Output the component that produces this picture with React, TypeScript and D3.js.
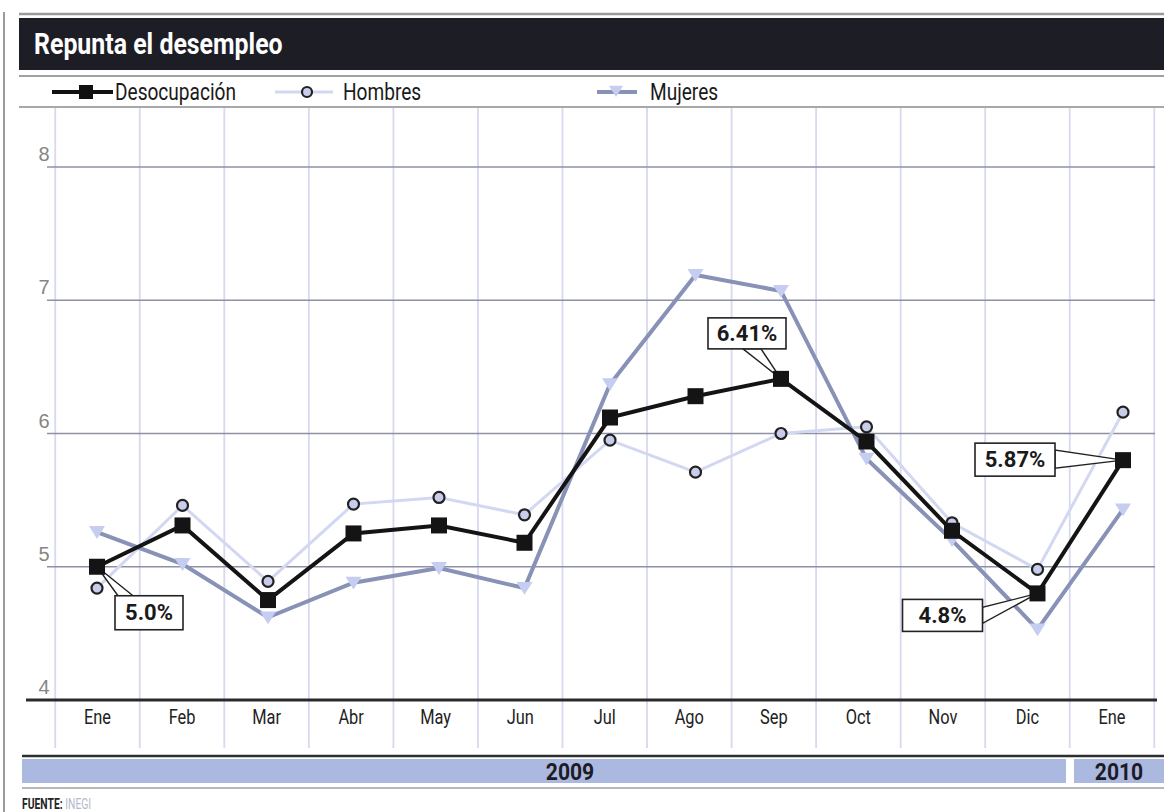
import React from "react";
import * as d3 from "d3";

const months = ["Ene", "Feb", "Mar", "Abr", "May", "Jun", "Jul", "Ago", "Sep", "Oct", "Nov", "Dic", "Ene"];
const desocupacion = [5.0, 5.31, 4.75, 5.25, 5.31, 5.18, 6.12, 6.28, 6.41, 5.94, 5.27, 4.8, 5.8];
const hombres = [4.84, 5.46, 4.89, 5.47, 5.52, 5.39, 5.95, 5.71, 6.0, 6.05, 5.33, 4.98, 6.16];
const mujeres = [5.26, 5.02, 4.62, 4.88, 4.99, 4.84, 6.37, 7.19, 7.07, 5.81, 5.2, 4.53, 5.43];
const yTicks = [4, 5, 6, 7, 8];
const years = ["2009", "2010"];
const callouts = [
  { i: 0, label: "5.0%" },
  { i: 8, label: "6.41%" },
  { i: 11, label: "4.8%" },
  { i: 12, label: "5.87%" },
];

const FONT = "Roboto, 'Liberation Sans', sans-serif";

type TProps = {
  x: number; y: number; sx?: number; size: number; anchor?: string; weight?: string | number;
  fill?: string; children: React.ReactNode; family?: string;
};
function T({ x, y, sx = 0.85, size, anchor = "start", weight = "normal", fill = "#1a1a1a", children, family = FONT }: TProps) {
  return (
    <text transform={`translate(${x},${y}) scale(${sx},1)`} textAnchor={anchor} fontFamily={family}
      fontSize={size} fontWeight={weight} fill={fill}>
      {children}
    </text>
  );
}

export default function App() {
  const W = 1164, H = 812;
  const idx = months.map((_, i) => i);
  const xl = d3.scaleLinear().domain([0, 12]).range([97.5, 1112]); // labels / grid
  const xd = d3.scaleLinear().domain([0, 12]).range([97, 1123]); // data points
  const y = d3.scaleLinear().domain([4, 8]).range([700, 167]);
  const step = xl(1) - xl(0);

  const line = (vals: number[]) =>
    d3.line<number>().x((_, i) => xd(i)).y((v) => y(v))(vals) || "";

  const tri = (cx: number, cy: number, s = 8) =>
    `M${cx - s},${cy - s * 0.75}L${cx + s},${cy - s * 0.75}L${cx},${cy + s * 0.85}Z`;

  const boxFor = (c: { i: number; label: string }) => {
    const px = xd(c.i), py = y(desocupacion[c.i]);
    if (c.i === 0) return { px, py, bx: px + 18, by: py + 29, bw: 68, bh: 34, w1: [px + 21, py + 29], w2: [px + 36, py + 29] };
    if (c.i === 8) return { px, py, bx: px - 73, by: py - 61, bw: 78, bh: 31, w1: [px - 38, py - 30], w2: [px - 20, py - 30] };
    if (c.i === 11) return { px, py, bx: px - 135, by: py + 6, bw: 80, bh: 32, w1: [px - 55, py + 14], w2: [px - 55, py + 30] };
    return { px, py, bx: px - 148, by: py - 17, bw: 80, bh: 33, w1: [px - 68, py - 10], w2: [px - 68, py + 8] };
  };

  return (
    <svg width={W} height={H} style={{ position: "absolute", left: 0, top: 0, background: "#fff" }}>
      {/* frame lines */}
      <line x1={4} x2={4} y1={12} y2={812} stroke="#9a9a9a" strokeWidth={2} />
      <line x1={19} x2={W} y1={14} y2={14} stroke="#9a9a9a" strokeWidth={2.5} />
      <rect x={19} y={18} width={W - 19} height={52} fill="#1d1d26" />
      <T x={34} y={54} size={30} sx={0.83} weight="bold" fill="#fff">Repunta el desempleo</T>
      <line x1={19} x2={W} y1={76} y2={76} stroke="#a0a0a0" strokeWidth={2} />
      <line x1={19} x2={W} y1={107} y2={107} stroke="#a8a8a8" strokeWidth={2} />

      {/* legend */}
      <line x1={52} x2={113} y1={92} y2={92} stroke="#111" strokeWidth={4} />
      <rect x={79} y={85} width={14} height={14} fill="#111" />
      <T x={115} y={100} size={23} sx={0.83}>Desocupación</T>
      <line x1={275} x2={333} y1={92} y2={92} stroke="#d3d8f2" strokeWidth={3} />
      <circle cx={307} cy={92} r={5} fill="#c9cdec" stroke="#222" strokeWidth={2.2} />
      <T x={343} y={100} size={23} sx={0.83}>Hombres</T>
      <line x1={597} x2={637} y1={92} y2={92} stroke="#8891b6" strokeWidth={4} />
      <path d={tri(616, 91, 7)} fill="#c5cdf0" />
      <T x={650} y={100} size={23} sx={0.83}>Mujeres</T>

      {/* vertical grid */}
      {d3.range(14).map((k) => {
        const gx = xl(0) - step / 2 + k * step;
        return <line key={"v" + k} x1={gx} x2={gx} y1={108} y2={748} stroke="#d6d9f0" strokeWidth={1.8} />;
      })}
      {/* horizontal grid */}
      {yTicks.filter((t) => t > 4).map((t) => (
        <line key={"h" + t} x1={47} x2={1155} y1={y(t)} y2={y(t)} stroke="#8e90a4" strokeWidth={1.6} />
      ))}
      {yTicks.map((t) => (
        <T key={"yt" + t} x={44} y={y(t) - 6} size={20} sx={1} anchor="middle" fill="#858585"
          family="'Liberation Sans', Arial, sans-serif">
          {t}
        </T>
      ))}
      <line x1={26} x2={1157} y1={700} y2={700} stroke="#2a2a2a" strokeWidth={3} />
      {idx.map((i) => (
        <T key={"m" + i} x={xl(i)} y={724} size={20} sx={0.82} anchor="middle" fill="#222">
          {months[i]}
        </T>
      ))}

      {/* year band */}
      <line x1={22} x2={W} y1={756} y2={756} stroke="#2e2e2e" strokeWidth={2.5} />
      <rect x={22} y={759} width={1044} height={24} fill="#abb8e0" />
      <rect x={1074} y={759} width={W - 1074} height={24} fill="#abb8e0" />
      <line x1={22} x2={W} y1={788} y2={788} stroke="#a0a0a0" strokeWidth={1.5} />
      <T x={570} y={780} size={24} sx={0.88} anchor="middle" weight="bold" fill="#1c1c24">{years[0]}</T>
      <T x={1119} y={780} size={24} sx={0.88} anchor="middle" weight="bold" fill="#1c1c24">{years[1]}</T>
      <T x={22} y={809} size={14} sx={0.74} weight="bold" fill="#222">
        FUENTE: <tspan fontWeight="normal" fill="#b4b8cc">INEGI</tspan>
      </T>

      {/* series lines */}
      <path d={line(hombres)} fill="none" stroke="#d3d8f2" strokeWidth={3} />
      <path d={line(mujeres)} fill="none" stroke="#8891b6" strokeWidth={4} />
      <path d={line(desocupacion)} fill="none" stroke="#141414" strokeWidth={4} />

      {/* callouts */}
      {callouts.map((c) => {
        const b = boxFor(c);
        return (
          <g key={"c" + c.i}>
            <path d={`M${b.px},${b.py}L${b.w1[0]},${b.w1[1]}L${b.w2[0]},${b.w2[1]}Z`} fill="#fff" stroke="#222" strokeWidth={1.4} />
            <rect x={b.bx} y={b.by} width={b.bw} height={b.bh} fill="#fff" stroke="#222" strokeWidth={1.6} />
            <T x={b.bx + b.bw / 2} y={b.by + b.bh / 2 + 7.5} size={22} sx={1} anchor="middle" weight="bold">
              {c.label}
            </T>
          </g>
        );
      })}

      {/* markers */}
      {mujeres.map((v, i) => (
        <path key={"t" + i} d={tri(xd(i), y(v), 8)} fill="#c5cdf0" />
      ))}
      {hombres.map((v, i) => (
        <circle key={"c" + i} cx={xd(i)} cy={y(v)} r={5.5} fill="#c9cdec" stroke="#222" strokeWidth={2.2} />
      ))}
      {desocupacion.map((v, i) => (
        <rect key={"s" + i} x={xd(i) - 8} y={y(v) - 8} width={16} height={16} fill="#141414" />
      ))}
    </svg>
  );
}
